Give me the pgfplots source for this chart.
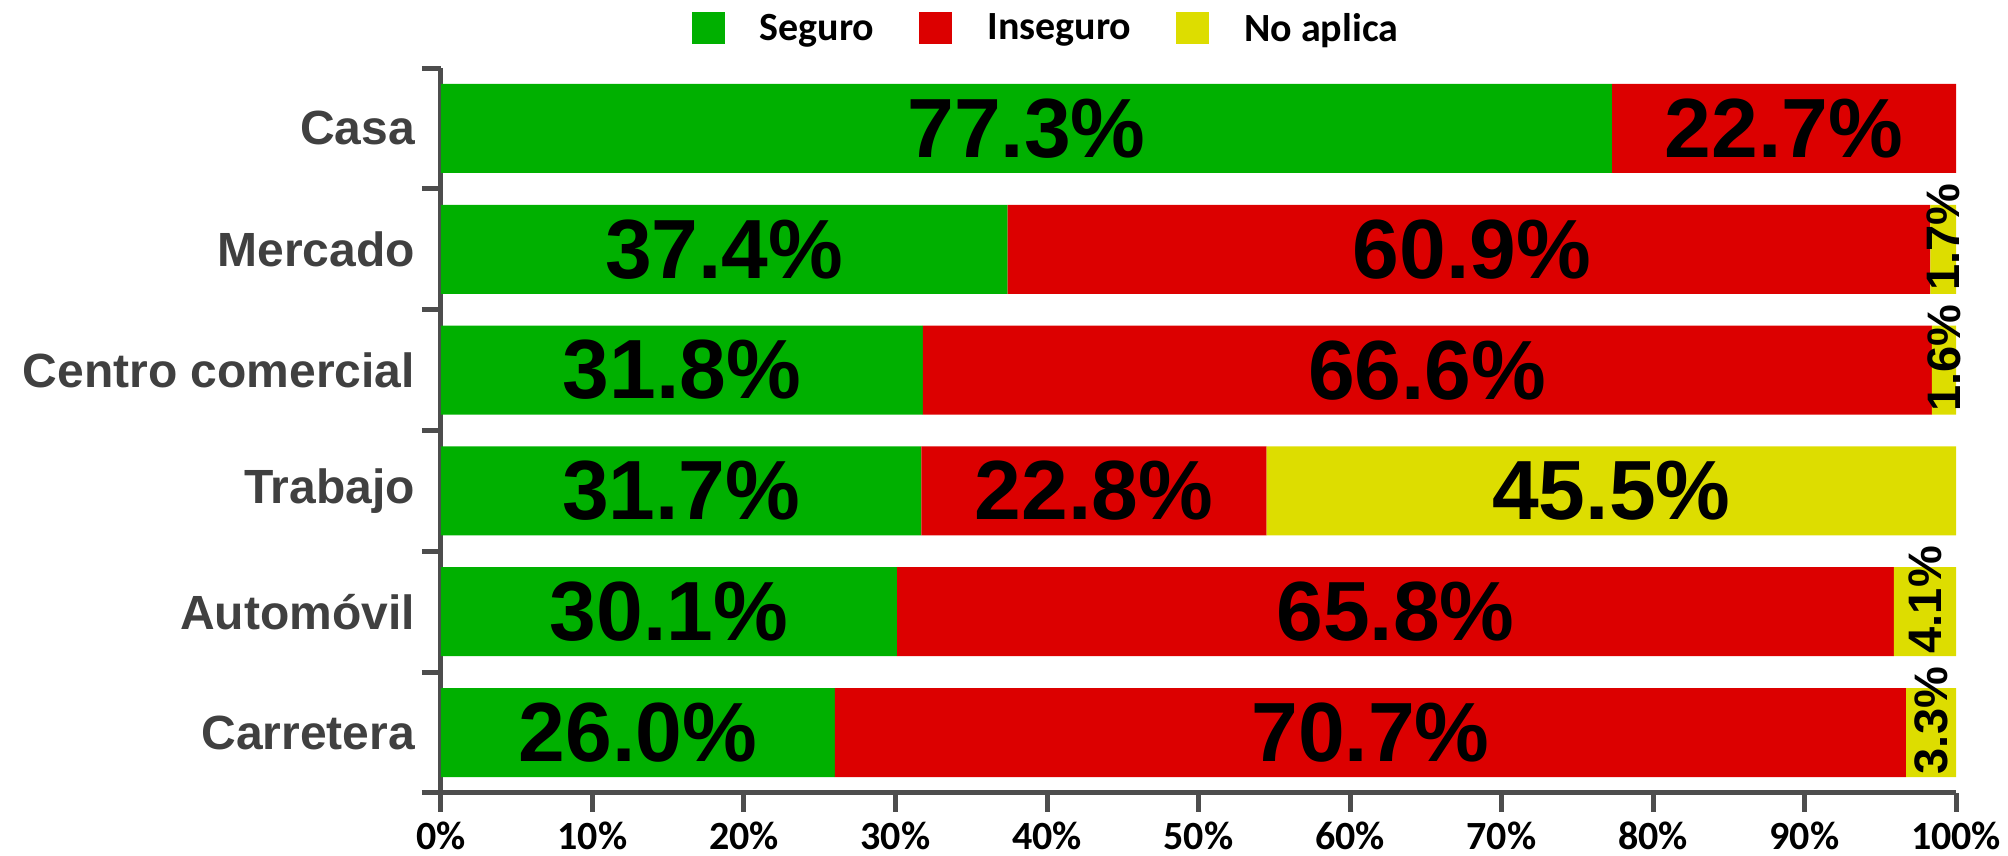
\documentclass[border=0pt]{standalone}
\usepackage{fontspec}
\setmainfont{Liberation Sans}
\newfontfamily\calibri{Carlito}
\usepackage{pgfplots}
\pgfplotsset{compat=1.18}
\usepackage{pgfplotstable}
\definecolor{cgreen}{RGB}{0,176,0}
\definecolor{cred}{RGB}{220,0,0}
\definecolor{cyellow}{RGB}{221,221,0}
\definecolor{axgray}{RGB}{77,77,77}
\definecolor{labgray}{RGB}{64,64,64}

\pgfplotstableread{
y seguro inseguro noaplica
0 26.0 70.7 3.3
1 30.1 65.8 4.1
2 31.7 22.8 45.5
3 31.8 66.6 1.6
4 37.4 60.9 1.7
5 77.3 22.7 0
}\datatable

\pgfplotstableread{
x y lab
38.65 5 77.3
88.65 5 22.7
18.7 4 37.4
68.05 4 60.9
15.9 3 31.8
65.1 3 66.6
15.85 2 31.7
43.1 2 22.8
77.25 2 45.5
15.05 1 30.1
63.0 1 65.8
13.0 0 26.0
61.35 0 70.7
}\biglabels

\pgfplotstableread{
x y lab
99.15 4 1.7
99.20 3 1.6
97.95 1 4.1
98.35 0 3.3
}\smalllabels

\pgfplotsset{
  boxlegend/.style={legend image code/.code={\fill[##1] (0pt,-8pt) rectangle (16.5pt,8pt);}},
}

\begin{document}
\begin{tikzpicture}
\path[use as bounding box] (-220.5pt,-31.5pt) rectangle (783.5pt,396.5pt);
\begin{axis}[
  scale only axis,
  width=757.5pt, height=362.5pt,
  xmin=0, xmax=100, ymin=-0.5, ymax=5.5,
  enlargelimits=false,
  clip=false,
  bar width=44.5pt,
  axis x line*=bottom, axis y line*=left,
  axis line style={draw=axgray, line width=2.5pt, -},
  every tick/.style={draw=axgray, line width=2.5pt},
  tick align=outside,
  major tick length=9.5pt,
  xtick={0,10,...,100},
  xticklabels={0\%,10\%,20\%,30\%,40\%,50\%,60\%,70\%,80\%,90\%,100\%},
  xticklabel style={font=\calibri\bfseries\fontsize{20}{20}\selectfont, text=black, yshift=-1.5pt},
  ytick={0,...,5},
  yticklabels={Carretera,Automóvil,Trabajo,Centro comercial,Mercado,Casa},
  yticklabel style={font=\fontsize{24}{24}\selectfont\bfseries, text=labgray},
  ytick style={draw=none},
  extra y ticks={-0.5,0.5,1.5,2.5,3.5,4.5,5.5},
  extra y tick labels={},
  extra y tick style={ytick style={draw=axgray, line width=2.5pt}},
  legend style={at={(0.3987,1.0545)}, anchor=center, draw=none, fill=none,
    font=\calibri\bfseries\fontsize{20}{20}\selectfont, inner sep=0pt, outer sep=0pt,
    nodes={inner sep=0pt},
    /tikz/every odd column/.append style={column sep=17.5pt},
    /tikz/every even column/.append style={column sep=22.5pt}},
  legend columns=3,
  legend cell align=left,
]
\addplot[xbar stacked, fill=cgreen, draw=none, boxlegend] table[x=seguro, y=y] {\datatable};
\addlegendentry{Seguro}
\addplot[xbar stacked, fill=cred, draw=none, boxlegend] table[x=inseguro, y=y] {\datatable};
\addlegendentry{Inseguro}
\addplot[xbar stacked, fill=cyellow, draw=none, boxlegend] table[x=noaplica, y=y] {\datatable};
\addlegendentry{No aplica}

\addplot[draw=none, mark=none, forget plot, point meta=explicit symbolic,
  nodes near coords={\pgfplotspointmeta\%},
  every node near coord/.append style={anchor=center, inner sep=0pt, text=black,
    font=\fontsize{42}{42}\selectfont\bfseries}]
  table[x=x, y=y, meta=lab] {\biglabels};
\addplot[draw=none, mark=none, forget plot, point meta=explicit symbolic,
  nodes near coords={\pgfplotspointmeta\%},
  every node near coord/.append style={yshift=6pt, rotate=90, anchor=center, inner sep=0pt, text=black,
    font=\fontsize{23.5}{23.5}\selectfont\bfseries}]
  table[x=x, y=y, meta=lab] {\smalllabels};
\end{axis}
\end{tikzpicture}
\end{document}
